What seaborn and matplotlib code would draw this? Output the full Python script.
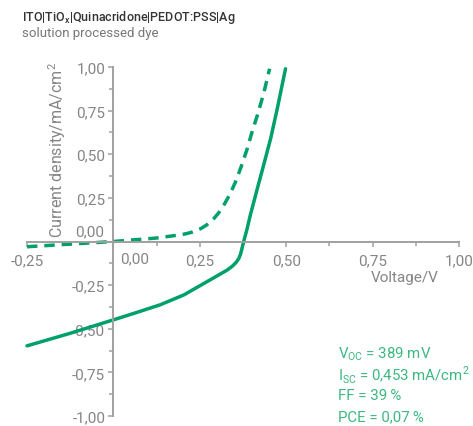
import matplotlib
matplotlib.use("Agg")
import matplotlib.pyplot as plt
from matplotlib.ticker import MultipleLocator, FuncFormatter
import seaborn as sns

# J-V curves
v_light = [-0.25, -0.125, 0.0, 0.07, 0.135, 0.204, 0.271, 0.329, 0.345, 0.355,
           0.363, 0.368, 0.372, 0.377, 0.387, 0.396, 0.416, 0.435, 0.455, 0.474, 0.498]
j_light = [-0.598, -0.526, -0.449, -0.405, -0.363, -0.306, -0.23, -0.164, -0.14,
           -0.12, -0.097, -0.072, -0.04, 0.0, 0.074, 0.15, 0.30, 0.44, 0.59, 0.76, 0.99]
v_dark = [-0.25, -0.125, 0.0, 0.125, 0.2, 0.225, 0.253, 0.27, 0.29, 0.305, 0.32,
          0.337, 0.353, 0.37, 0.387, 0.40, 0.416, 0.435, 0.452]
j_dark = [-0.03, -0.015, 0.0, 0.02, 0.04, 0.052, 0.074, 0.095, 0.13, 0.165, 0.21,
          0.27, 0.34, 0.43, 0.53, 0.62, 0.72, 0.85, 0.99]

x_ticks = [-0.25, 0.0, 0.25, 0.5, 0.75, 1.0]
y_ticks = [-1.0, -0.75, -0.5, -0.25, 0.0, 0.25, 0.5, 0.75, 1.0]
stats = ["V$_\\mathregular{OC}$ = 389 mV",
         "I$_\\mathregular{SC}$ = 0,453 mA/cm$^\\mathregular{2}$",
         "FF = 39\u2009%",
         "PCE = 0,07\u2009%"]

GREEN = "#00a06b"
TEXT_GREEN = "#3bb882"
AXIS = "#a0a0a0"
LABEL = "#858585"

sns.set_style("white")
plt.rcParams["font.family"] = ["Roboto", "DejaVu Sans"]
plt.rcParams["mathtext.fontset"] = "custom"
plt.rcParams["mathtext.rm"] = "Roboto"

fig = plt.figure(figsize=(4.73, 4.27), dpi=100)
ax = fig.add_axes([27 / 473, 10 / 427, 432 / 473, 349 / 427])

sns.lineplot(x=v_light, y=j_light, sort=False, estimator=None, color=GREEN,
             linewidth=2.5, ax=ax, clip_on=False)
sns.lineplot(x=v_dark, y=j_dark, sort=False, estimator=None, color=GREEN,
             linewidth=2.5, linestyle=(0, (3, 2)), ax=ax, clip_on=False)

ax.set_xlim(-0.25, 1.0)
ax.set_ylim(-1.0, 1.0)

# spines through the origin
ax.spines["left"].set_position(("data", 0))
ax.spines["bottom"].set_position(("data", 0))
ax.spines["right"].set_visible(False)
ax.spines["top"].set_visible(False)
for s in ("left", "bottom"):
    ax.spines[s].set_color(AXIS)
    ax.spines[s].set_linewidth(1.4)

fmt = lambda v, pos: "" if abs(v) < 1e-9 else f"{v:.2f}".replace(".", ",")
ax.set_xticks(x_ticks)
ax.set_yticks(y_ticks)
ax.xaxis.set_minor_locator(MultipleLocator(0.125))
ax.yaxis.set_minor_locator(MultipleLocator(0.125))
ax.xaxis.set_major_formatter(FuncFormatter(fmt))
ax.yaxis.set_major_formatter(FuncFormatter(fmt))
ax.tick_params(which="both", direction="out", color=AXIS, width=1.1)
ax.tick_params(which="major", length=3.8, labelsize=11, labelcolor=LABEL)
ax.tick_params(which="minor", length=3)
ax.tick_params(axis="x", which="major", pad=5)
ax.tick_params(axis="y", which="major", pad=2)
ax.xaxis.set_ticks_position("bottom")
ax.yaxis.set_ticks_position("left")

# zero labels moved off the axes
ax.text(0.02, -0.055, "0,00", ha="left", va="top", fontsize=11, color=LABEL)
ax.text(-0.026, 0.017, "0,00", ha="right", va="bottom", fontsize=11, color=LABEL)

ax.set_xlabel("Voltage/V", fontsize=11, color=LABEL)
ax.xaxis.set_label_coords(0.842, -0.165, transform=ax.transData)
ax.set_ylabel("Current density/mA/cm$^\\mathregular{2}$", fontsize=11.5, color=LABEL)
ax.yaxis.set_label_coords(-0.13, 0.531, transform=ax.transData)

for i, s in enumerate(stats):
    ax.text(0.651, -0.639 - 0.12 * i, s, ha="left", va="center",
            fontsize=10.8, color=TEXT_GREEN)

fig.text(22 / 473, 1 - 17 / 427, "ITO|TiO$_\\mathregular{x}$|Quinacridone|PEDOT:PSS|Ag",
         ha="left", va="center", fontsize=9, color="#333333", fontweight="medium")
fig.text(22 / 473, 1 - 33 / 427, "solution processed dye",
         ha="left", va="center", fontsize=9.5, color="#777777")

fig.savefig("out.png", dpi=100)
